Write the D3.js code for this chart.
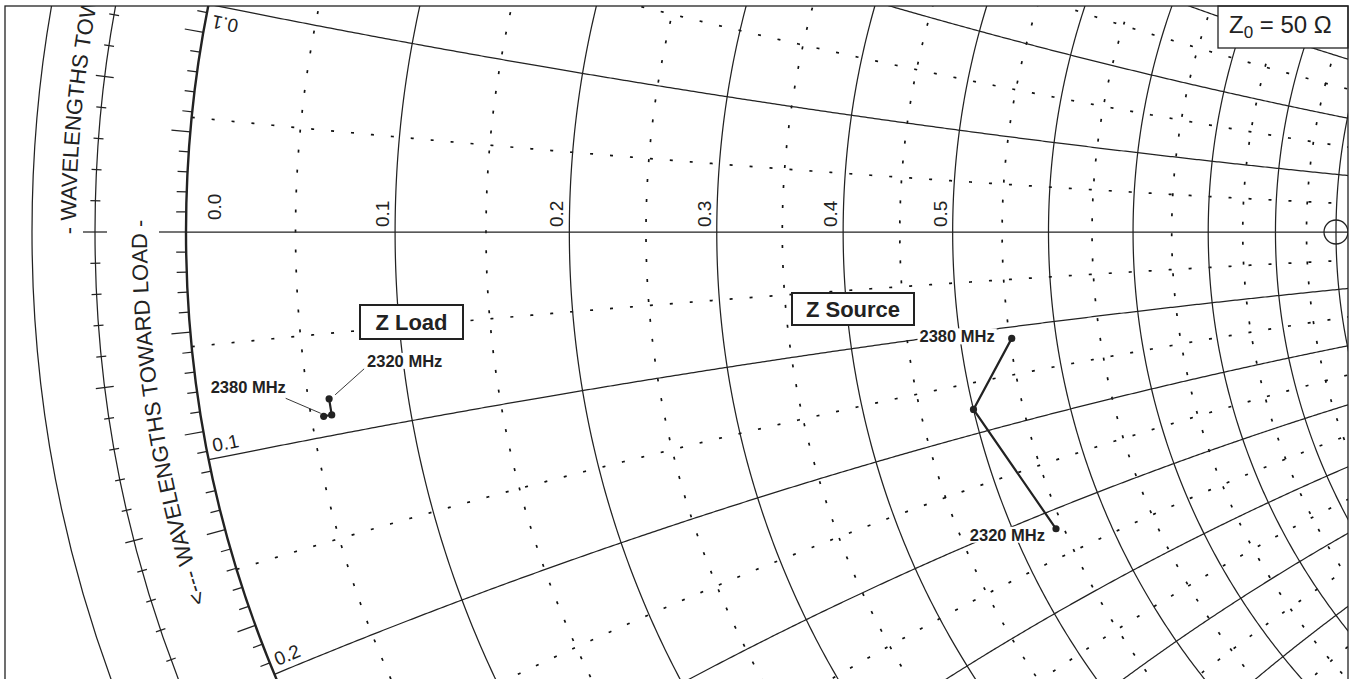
<!DOCTYPE html>
<html>
<head>
<meta charset="utf-8">
<script src="https://cdn.jsdelivr.net/npm/d3@7"></script>
<style>
  html, body { margin: 0; padding: 0; background: #fff; }
  svg { display: block; }
  text { font-family: "Liberation Sans", Arial, Helvetica, sans-serif; fill: #222; }
</style>
</head>
<body>
<svg id="chart" width="1351" height="679"></svg>
<script>
// ---- data -------------------------------------------------------------
const Z0 = 50;                                   // reference impedance, ohms
const freqs = [2320, 2350, 2380];                // MHz
const loadR = [3.0, 3.0, 2.8];                   // Z Load, ohms
const loadX = [-4.1, -4.5, -4.5];
const sourceR = [27.1, 25.0, 27.6];              // Z Source, ohms
const sourceX = [-16.0, -8.8, -5.6];
const resistanceTicks = [0.0, 0.1, 0.2, 0.3, 0.4, 0.5];
const reactanceTicks = [0.1, -0.1, -0.2];

// ---- geometry ---------------------------------------------------------
const W = 1351, H = 679;
const cx = 1336, cy = 232, R = 1150;            // chart centre and unit radius (px)
const sx = d3.scaleLinear().domain([-1, 1]).range([cx - R, cx + R]);
const sy = d3.scaleLinear().domain([-1, 1]).range([cy + R, cy - R]);

// reflection coefficient of a normalised impedance r + jx
function gamma(r, x) {
  const d = (r + 1) * (r + 1) + x * x;
  return [(r * r - 1 + x * x) / d, (2 * x) / d];
}
const line = d3.line().x(d => sx(d[0])).y(d => sy(d[1]));
const polar = (angDeg, rho) => {
  const a = angDeg * Math.PI / 180;
  return [cx + rho * Math.cos(a), cy - rho * Math.sin(a)];
};

const svg = d3.select("#chart");
const defs = svg.append("defs");
const frame = { x: 5, y: 6, w: 1343, h: 690 };
defs.append("clipPath").attr("id", "frameClip")
  .append("rect").attr("x", frame.x).attr("y", frame.y).attr("width", frame.w).attr("height", frame.h);

const g = svg.append("g").attr("clip-path", "url(#frameClip)");

// ---- resistance circles and reactance arcs ----------------------------
const N = 900;
function rCircle(r) {
  const pts = [];
  for (let i = 0; i <= N; i++) {
    const phi = -Math.PI / 2 + 1e-4 + (Math.PI - 2e-4) * i / N;
    pts.push(gamma(r, Math.tan(phi)));
  }
  return pts;
}
function xArc(x) {
  const pts = [];
  for (let i = 0; i <= N; i++) {
    const th = (Math.PI / 2 - 1e-4) * i / N;
    pts.push(gamma(Math.tan(th), x));
  }
  pts.push([1, 0]);
  return pts;
}

const solidVals = d3.range(1, 11).map(k => k / 10);            // 0.1 … 1.0
const dottedVals = d3.range(0, 10).map(k => (2 * k + 1) / 20); // 0.05 … 0.95
const solidStyle = s => s.attr("fill", "none").attr("stroke", "#222").attr("stroke-width", 1.25);
const dotStyle = s => s.attr("fill", "none").attr("stroke", "#111").attr("stroke-width", 1.7)
  .attr("stroke-dasharray", "3 17");

const grid = g.append("g");
grid.selectAll("path.rdot").data(dottedVals).join("path").attr("class", "rdot")
  .attr("d", r => line(rCircle(r))).call(dotStyle);
grid.selectAll("path.xdot").data(dottedVals.flatMap(v => [v, -v])).join("path").attr("class", "xdot")
  .attr("d", x => line(xArc(x))).call(dotStyle);
grid.selectAll("path.rsol").data(solidVals).join("path").attr("class", "rsol")
  .attr("d", r => line(rCircle(r))).call(solidStyle);
grid.selectAll("path.xsol").data(solidVals.flatMap(v => [v, -v])).join("path").attr("class", "xsol")
  .attr("d", x => line(xArc(x))).call(solidStyle);

// real axis
grid.append("line").attr("x1", sx(-1)).attr("y1", sy(0)).attr("x2", sx(1)).attr("y2", sy(0))
  .attr("stroke", "#222").attr("stroke-width", 1.25);

// outer rim (r = 0)
g.append("circle").attr("cx", cx).attr("cy", cy).attr("r", R)
  .attr("fill", "none").attr("stroke", "#222").attr("stroke-width", 2.4);

// degree ticks on the rim
const rimTicks = d3.range(-40, 41).map(k => ({ ang: 180 + k, k }));
g.selectAll("line.rim").data(rimTicks).join("line").attr("class", "rim")
  .each(function (d) {
    const len = d.k === 0 ? 27 : (d.k % 5 === 0 ? 19 : 10);
    const p0 = polar(d.ang, R), p1 = polar(d.ang, R + len);
    d3.select(this).attr("x1", p0[0]).attr("y1", p0[1]).attr("x2", p1[0]).attr("y2", p1[1]);
  })
  .attr("stroke", "#222").attr("stroke-width", 1.25);

// wavelength scale ring (0.002 λ divisions)
const Rw = 1241, Ro = 1304;
g.append("circle").attr("cx", cx).attr("cy", cy).attr("r", Rw)
  .attr("fill", "none").attr("stroke", "#222").attr("stroke-width", 1.25);
g.append("circle").attr("cx", cx).attr("cy", cy).attr("r", Ro)
  .attr("fill", "none").attr("stroke", "#222").attr("stroke-width", 1.25);
const wlTicks = d3.range(-25, 26).map(k => ({ ang: 180 + k * 0.72 * 2, k }));
g.selectAll("line.wl").data(wlTicks).join("line").attr("class", "wl")
  .each(function (d) {
    const half = d.k === 0 ? 12 : (d.k % 5 === 0 ? 9 : 5);
    const p0 = polar(d.ang, Rw - half), p1 = polar(d.ang, Rw + half);
    d3.select(this).attr("x1", p0[0]).attr("y1", p0[1]).attr("x2", p1[0]).attr("y2", p1[1]);
  })
  .attr("stroke", "#222").attr("stroke-width", 1.25);

// curved scale captions
function ringPath(id, rho) {
  const pts = d3.range(0, 241).map(i => polar(240 - i * 0.5, rho)); // 240° → 120°, moving up the left side
  defs.append("path").attr("id", id).attr("d", d3.line()(pts));
}
ringPath("innerRing", 1189);
ringPath("outerRing", 1260);
const rad = Math.PI / 180;
g.append("text").attr("font-size", 22)
  .append("textPath").attr("href", "#innerRing")
  .attr("startOffset", (240 - 179.4) * rad * 1189).attr("text-anchor", "end")
  .text("<--- WAVELENGTHS TOWARD LOAD -");
g.append("text").attr("font-size", 22)
  .append("textPath").attr("href", "#outerRing")
  .attr("startOffset", (240 - 180.1) * rad * 1260).attr("text-anchor", "start")
  .text("- WAVELENGTHS TOWARD GENERATOR --->");

// centre marker
g.append("circle").attr("cx", sx(0)).attr("cy", sy(0)).attr("r", 12)
  .attr("fill", "none").attr("stroke", "#222").attr("stroke-width", 1.3);

// resistance values along the real axis
g.selectAll("text.rlab").data(resistanceTicks).join("text").attr("class", "rlab")
  .attr("font-size", 19)
  .attr("transform", r => {
    const px = sx(gamma(r, 0)[0]);
    return r === 0 ? `translate(${px + 35},220) rotate(-90)` : `translate(${px - 6},227) rotate(-90)`;
  })
  .text(r => r.toFixed(1));

// reactance values next to the rim
reactanceTicks.forEach(x => {
  const pts = xArc(x).map(p => [sx(p[0]), sy(p[1])]);
  let dist = 0, i = 1;
  const walk = x > 0 ? 18 : 16;
  while (i < pts.length && dist < walk) {
    dist += Math.hypot(pts[i][0] - pts[i - 1][0], pts[i][1] - pts[i - 1][1]);
    i++;
  }
  const p = pts[i - 1], q = pts[i + 3];
  const ang = Math.atan2(q[1] - p[1], q[0] - p[0]);
  const off = x > 0 ? 16 : 13;
  // normal pointing towards the real axis
  const nx = -Math.sin(ang), ny = Math.cos(ang);
  const sgn = x > 0 ? 1 : -1;
  const c = [p[0] + sgn * nx * off, p[1] + sgn * ny * off];
  const deg = ang * 180 / Math.PI + (x > 0 ? 180 : 0);
  g.append("text").attr("font-size", 19).attr("text-anchor", "middle")
    .attr("dominant-baseline", "central")
    .attr("transform", `translate(${c[0]},${c[1]}) rotate(${deg})`)
    .text(Math.abs(x).toFixed(1));
});

// ---- measured impedances ----------------------------------------------
const toPx = (r, x) => { const gm = gamma(r / Z0, x / Z0); return [sx(gm[0]), sy(gm[1])]; };
const loadPts = freqs.map((f, i) => ({ f, p: toPx(loadR[i], loadX[i]) }));
const sourcePts = freqs.map((f, i) => ({ f, p: toPx(sourceR[i], sourceX[i]) }));

const marks = g.append("g");
[loadPts, sourcePts].forEach(set => {
  marks.append("path").attr("d", d3.line()(set.map(d => d.p)))
    .attr("fill", "none").attr("stroke", "#222").attr("stroke-width", 2.2);
  marks.selectAll(null).data(set).join("circle")
    .attr("cx", d => d.p[0]).attr("cy", d => d.p[1]).attr("r", 3.6).attr("fill", "#222");
});

// frequency labels (offsets from their point)
const annotations = [
  { pt: loadPts[0], tx: 38, ty: -32, anchor: "start", leader: [[35, -30], [6, -4]] },
  { pt: loadPts[2], tx: -113, ty: -23, anchor: "start", leader: [[-38, -18], [-3, -3]] },
  { pt: sourcePts[2], tx: -17, ty: 4, anchor: "end" },
  { pt: sourcePts[0], tx: -11, ty: 12, anchor: "end" }
];
annotations.forEach(a => {
  const [px, py] = a.pt.p;
  if (a.leader) {
    marks.append("line")
      .attr("x1", px + a.leader[0][0]).attr("y1", py + a.leader[0][1])
      .attr("x2", px + a.leader[1][0]).attr("y2", py + a.leader[1][1])
      .attr("stroke", "#222").attr("stroke-width", 0.9);
  }
  const t = marks.append("text").attr("x", px + a.tx).attr("y", py + a.ty)
    .attr("text-anchor", a.anchor).attr("font-size", 16.5).attr("font-weight", "bold")
    .text(`${a.pt.f} MHz`);
  const bb = t.node().getBBox();
  marks.insert("rect", () => t.node())
    .attr("x", bb.x - 2).attr("y", bb.y + 1).attr("width", bb.width + 4).attr("height", bb.height - 2)
    .attr("fill", "#fff");
});

// boxed captions
function boxLabel(text, cxBox, cyBox, w, h) {
  marks.append("rect").attr("x", cxBox - w / 2).attr("y", cyBox - h / 2).attr("width", w).attr("height", h)
    .attr("fill", "#fff").attr("stroke", "#222").attr("stroke-width", 2);
  marks.append("text").attr("x", cxBox).attr("y", cyBox + 8).attr("text-anchor", "middle")
    .attr("font-size", 22).attr("font-weight", "bold").text(text);
}
boxLabel("Z Load", 411.5, 322, 103, 34);
boxLabel("Z Source", 853, 309, 122, 32);

// reference impedance box
svg.append("rect").attr("x", 1218).attr("y", frame.y).attr("width", 1348 - 1218).attr("height", 42)
  .attr("fill", "#fff").attr("stroke", "#222").attr("stroke-width", 1.3);
const z0t = svg.append("text").attr("x", 1229).attr("y", 33).attr("font-size", 24);
z0t.append("tspan").text("Z");
z0t.append("tspan").attr("font-size", 17).attr("dy", 5).text("0");
z0t.append("tspan").attr("dy", -5).text(` = ${Z0} \u03A9`);

// frame
svg.append("rect").attr("x", frame.x).attr("y", frame.y).attr("width", frame.w).attr("height", frame.h)
  .attr("fill", "none").attr("stroke", "#222").attr("stroke-width", 1.3);
</script>
</body>
</html>
